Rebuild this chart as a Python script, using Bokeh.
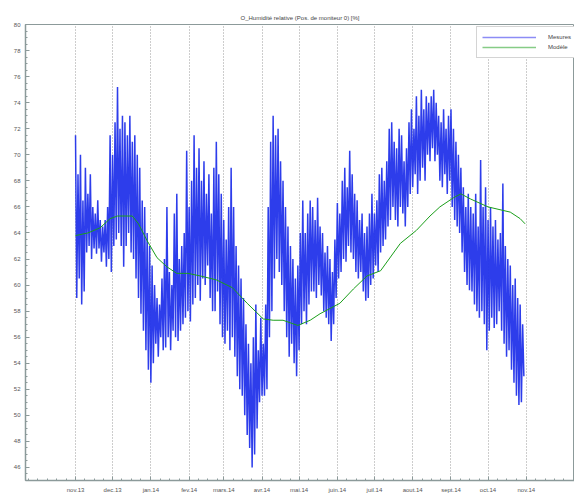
import numpy as np
import pandas as pd
from bokeh.plotting import figure
from bokeh.models import FixedTicker, Legend, LegendItem
from bokeh.embed import file_html
from bokeh.resources import INLINE

# ---- data ----
start_date = "2013-11-01"
month_starts = ["2013-11-01", "2013-12-01", "2014-01-01", "2014-02-01", "2014-03-01",
                "2014-04-01", "2014-05-01", "2014-06-01", "2014-07-01", "2014-08-01",
                "2014-09-01", "2014-10-01", "2014-11-01"]
month_labels = ["nov.13", "dec.13", "jan.14", "fev.14", "mars.14", "avr.14", "mai.14",
                "juin.14", "juil.14", "aout.14", "sept.14", "oct.14", "nov.14"]
y_ticks = [46, 48, 50, 52, 54, 56, 58, 60, 62, 64, 66, 68, 70, 72, 74, 76, 78, 80]

# measured humidity: alternating highs / lows, one pair every 2 days
mes_hi = [71.5, 68.5, 70.0, 66.5, 69.0, 67.0, 68.5, 66.0, 65.5, 66.5, 65.0, 64.5,
          65.0, 66.0, 71.5, 70.0, 72.5, 75.2, 72.0, 73.0, 72.5, 71.5, 73.0, 71.0,
          71.5, 70.0, 69.0, 66.5, 66.0, 64.0, 63.0, 61.5, 60.0, 59.0, 58.5, 60.5,
          62.0, 66.0, 61.0, 60.0, 65.5, 67.0, 62.0, 63.0, 64.0, 70.3, 66.0, 68.0,
          71.5, 69.0, 70.5, 68.0, 69.5, 67.0, 68.5, 65.5, 69.0, 71.0, 68.5, 67.0,
          65.0, 63.5, 66.0, 69.0, 66.0, 63.0, 61.5, 60.5, 59.0, 57.0, 55.5, 54.0,
          56.0, 58.5, 55.0, 57.5, 55.5, 58.5, 66.0, 71.0, 73.0, 71.5, 72.0, 69.5,
          68.0, 66.0, 64.5, 63.0, 62.0, 60.5, 61.5, 64.0, 66.5, 64.0, 65.5, 66.5,
          66.0, 65.0, 66.7, 64.5, 64.0, 62.5, 63.0, 62.0, 61.0, 63.5, 66.3, 65.5,
          68.0, 69.0, 67.5, 70.3, 68.5, 67.0, 66.5, 65.0, 65.5, 64.0, 64.5, 65.5,
          67.0, 65.5, 66.5, 68.5, 69.0, 68.0, 69.5, 72.0, 72.5, 71.0, 70.5, 72.0,
          71.5, 69.5, 70.5, 72.5, 73.5, 72.0, 74.5, 73.0, 75.0, 73.5, 74.5, 74.0,
          74.5, 75.0, 74.0, 73.0, 72.5, 73.5, 72.0, 73.0, 73.5, 72.0, 71.0, 70.0,
          69.0, 67.5, 66.0, 67.0, 66.0, 65.5, 67.0, 64.5, 69.6, 66.0, 67.5, 65.0,
          66.0, 64.5, 65.0, 63.5, 64.0, 67.8, 63.0, 62.0, 61.5, 60.0, 60.5, 59.0,
          58.5, 57.0]
mes_lo = [59.0, 60.5, 58.5, 59.5, 62.5, 63.0, 62.0, 62.8, 62.4, 62.8, 61.8, 62.5,
          61.4, 62.0, 61.0, 63.0, 63.5, 64.0, 63.0, 61.4, 63.0, 64.0, 62.5, 62.0,
          60.5, 59.0, 57.8, 56.5, 55.0, 53.5, 52.5, 54.0, 55.5, 54.5, 56.0, 55.0,
          55.2, 56.0, 55.0, 56.5, 56.0, 55.7, 56.5, 57.0, 57.5, 58.0, 57.2, 58.5,
          59.0, 60.0, 58.8, 60.5, 60.0, 61.5, 59.0, 58.0, 58.0, 59.5, 57.0, 56.0,
          55.5, 56.5, 55.0, 56.0, 54.5, 53.0, 52.0, 51.5, 50.0, 48.5, 47.5, 46.0,
          47.0, 49.0, 51.0, 51.5, 51.5, 52.0, 56.0, 58.0, 60.5, 62.0, 61.0, 60.0,
          58.0, 56.0, 54.5, 55.5, 54.0, 53.0, 55.0, 57.0, 58.0, 57.0, 58.5, 59.5,
          59.5, 59.0, 60.0, 59.2, 58.0, 57.5, 57.0, 55.7, 57.0, 59.0, 60.5, 61.0,
          62.0, 61.8, 63.0, 62.5, 62.0, 61.0, 60.5, 61.0, 59.5, 58.8, 59.0, 60.0,
          60.5, 61.5, 61.0, 62.5, 63.0, 63.5, 64.5, 65.0, 66.0, 65.0, 64.5, 66.0,
          65.5, 64.5, 66.0, 67.0, 67.5, 68.5, 67.0, 68.0, 69.0, 68.0, 70.0, 69.5,
          70.5, 69.5, 70.0, 68.0, 67.5, 68.5, 67.0, 68.0, 66.0, 65.0, 64.5, 64.0,
          62.5, 61.0, 60.0, 59.6, 59.5, 58.5, 58.0, 57.5, 58.0, 57.0, 55.0, 56.5,
          57.5, 56.7, 57.0, 58.0, 56.5, 55.5, 54.5, 55.0, 53.5, 52.5, 51.5, 50.8,
          51.0, 53.0]

# model: (day since start, value)
mod_day = [0, 10, 20, 28, 34, 46, 51, 58, 66, 74, 82, 91, 101, 114, 127, 139, 152,
           160, 168, 180, 190, 198, 214, 225, 236, 247, 263, 276, 287, 295, 306, 312,
           320, 334, 352, 360, 364]
mod_val = [63.8, 64.0, 64.4, 65.1, 65.3, 65.3, 64.7, 63.4, 62.1, 61.4, 60.9, 60.9,
           60.7, 60.4, 59.8, 58.6, 57.4, 57.3, 57.3, 56.9, 57.3, 57.8, 58.6, 59.7,
           60.7, 61.1, 63.2, 64.2, 65.3, 66.0, 66.7, 67.0, 66.6, 66.0, 65.6, 65.1,
           64.7]

# ---- build series ----
t0 = pd.Timestamp(start_date)
tick_days = [(pd.Timestamp(m) - t0).days for m in month_starts]
mes_val = []
for h, l in zip(mes_hi, mes_lo):
    mes_val.extend([h, l])
mes_day = list(range(len(mes_val)))

FONT = "Liberation Sans"
AXIS_COL = "#8c9a9a"
LABEL_COL = "#555555"

p = figure(width=574, height=500, output_backend="svg", toolbar_location=None,
           x_range=(-40.5, 404), y_range=(45, 80),
           min_border_left=25, min_border_right=0, min_border_top=24, min_border_bottom=20,
           title="O_Humidité relative (Pos. de moniteur 0) [%]")
p.title.text_font = FONT
p.title.text_font_size = "6px"
p.title.text_font_style = "normal"
p.title.text_color = "#444444"
p.title.align = "center"
p.title.standoff = 8

p.line(mes_day, mes_val, line_color="#2233ea", line_width=1.5, line_alpha=0.95)
p.line(mod_day, mod_val, line_color="#1a9e1a", line_width=1)

# legend swatches (lighter, as in the reference legend); their data lie below the
# visible y range so only the legend shows them
hidden_y = [y_ticks[0] - 100] * 2
leg_mes = p.line(mes_day[:2], hidden_y, line_color="#8c8cf5", line_width=1.3)
leg_mod = p.line(mod_day[:2], hidden_y, line_color="#86cc86", line_width=1.3)

p.xaxis.ticker = FixedTicker(ticks=tick_days,
                             minor_ticks=[d + k * 7.6 for d in tick_days[:-1] for k in (1, 2, 3)]
                             + [tick_days[0] - 7.6 * k for k in (1, 2, 3, 4, 5)]
                             + [tick_days[-1] + 7.6 * k for k in (1, 2, 3, 4, 5)])
p.xaxis.major_label_overrides = {d: lab for d, lab in zip(tick_days, month_labels)}
p.yaxis.ticker = FixedTicker(ticks=y_ticks,
                             minor_ticks=[v / 2 for v in range(90, 161)])

for ax in (p.xaxis, p.yaxis):
    ax.axis_line_color = AXIS_COL
    ax.axis_line_width = 1.5
    ax.major_tick_line_color = AXIS_COL
    ax.minor_tick_line_color = AXIS_COL
    ax.major_tick_in = 4
    ax.major_tick_out = 0
    ax.minor_tick_in = 2
    ax.minor_tick_out = 0
    ax.major_label_text_font = FONT
    ax.major_label_text_font_size = "6px"
    ax.major_label_text_color = LABEL_COL
p.xaxis.major_label_standoff = 6
p.yaxis.major_label_standoff = 5

p.xgrid.grid_line_color = "#9a9a9a"
p.xgrid.grid_line_dash = "1 2"
p.xgrid.grid_line_width = 1
p.ygrid.grid_line_color = None
p.outline_line_color = AXIS_COL
p.outline_line_width = 1
p.background_fill_color = "white"
p.border_fill_color = "white"

legend = Legend(items=[LegendItem(label="Mesures", renderers=[leg_mes]),
                       LegendItem(label="Modèle", renderers=[leg_mod])],
                location=(451, 422))
legend.label_text_font = FONT
legend.label_text_font_size = "6px"
legend.label_text_color = "#444444"
legend.glyph_width = 54
legend.glyph_height = 10
legend.label_standoff = 12
legend.label_height = 10
legend.spacing = 0
legend.padding = 5
legend.margin = 0
legend.border_line_color = "#aaaaaa"
legend.border_line_width = 1
legend.background_fill_alpha = 1.0
p.add_layout(legend, "center")

open("out.html", "w").write(file_html(p, INLINE))
